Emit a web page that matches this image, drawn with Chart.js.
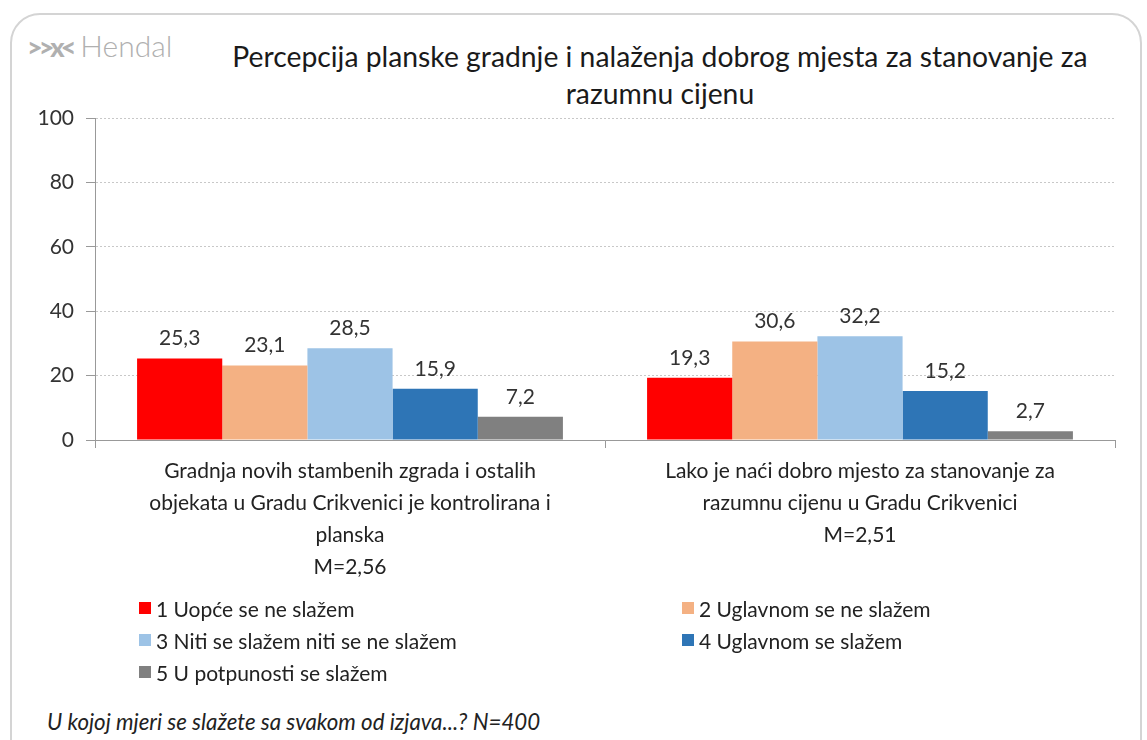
<!DOCTYPE html>
<html>
<head>
<meta charset="utf-8">
<script src="https://cdn.jsdelivr.net/npm/chart.js@4.4.0/dist/chart.umd.min.js"></script>
<style>
    html, body { margin: 0; padding: 0; background: #fff; }
    body { width: 1147px; height: 740px; position: relative; overflow: hidden; font-family: Lato, 'Noto Sans', sans-serif; }
    #frame { position: absolute; left: 10px; top: 13px; width: 1132px; height: 780px; border: 2px solid #d4d4d4; border-radius: 30px; box-sizing: border-box; }
    #logo { position: absolute; left: 27px; top: 27px; color: #b0b0b0; font-size: 30px; font-weight: 300; }
    #logo b { font-weight: 900; letter-spacing: -4px; margin-right: 8px; font-size: 27px; }
    #title { position: absolute; left: 180px; width: 960px; top: 38px; text-align: center; font-size: 28.3px; line-height: 37px; color: #1a1a1a; }
    #chartBox { position: absolute; left: 0; top: 0; width: 1147px; height: 600px; }
    #legend { position: absolute; left: 139px; top: 596px; width: 900px; display: grid; grid-template-columns: 543px 360px; row-gap: 8px; }
    .item { display: flex; align-items: center; font-size: 21px; color: #222; height: 24px; }
    .sw { width: 12px; height: 12px; margin-right: 5px; }
    #note { position: absolute; left: 47px; top: 708px; font-size: 22.3px; font-style: italic; color: #222; }
</style>
</head>
<body>
<div id="frame"></div>
<div id="logo"><b>&gt;&gt;x&lt;</b>Hendal</div>
<div id="title">Percepcija planske gradnje i nalaženja dobrog mjesta za stanovanje za<br>razumnu cijenu</div>
<div id="chartBox"><canvas id="chart"></canvas></div>
<div id="legend"></div>
<div id="note">U kojoj mjeri se slažete sa svakom od izjava...? N=400</div>
<script>
// kategorije (tvrdnje)
const categories = [
    ['Gradnja novih stambenih zgrada i ostalih', 'objekata u Gradu Crikvenici je kontrolirana i', 'planska', 'M=2,56'],
    ['Lako je naći dobro mjesto za stanovanje za', 'razumnu cijenu u Gradu Crikvenici', 'M=2,51']
];
const seriesNames = ['1 Uopće se ne slažem', '2 Uglavnom se ne slažem', '3 Niti se slažem niti se ne slažem', '4 Uglavnom se slažem', '5 U potpunosti se slažem'];
const seriesColors = ['#ff0000', '#f4b183', '#9dc3e6', '#2e75b6', '#808080'];
const uopce = [25.3, 19.3];
const uglavnomNe = [23.1, 30.6];
const niti = [28.5, 32.2];
const uglavnomDa = [15.9, 15.2];
const potpuno = [7.2, 2.7];
const yTicks = [0, 20, 40, 60, 80, 100];

const values = [uopce, uglavnomNe, niti, uglavnomDa, potpuno];

// oznake vrijednosti iznad stupaca
const valueLabels = {
    id: 'valueLabels',
    afterDatasetsDraw(chart) {
        const ctx = chart.ctx;
        ctx.save();
        ctx.font = '21px Lato, sans-serif';
        ctx.fillStyle = '#333';
        ctx.textAlign = 'center';
        ctx.textBaseline = 'middle';
        chart.data.datasets.forEach((ds, i) => {
            chart.getDatasetMeta(i).data.forEach((bar, j) => {
                ctx.fillText(ds.data[j].toFixed(1).replace('.', ','), bar.x, bar.y - 20);
            });
        });
        ctx.restore();
    }
};

const ctx = document.getElementById('chart').getContext('2d');
const chart = new Chart(ctx, {
    type: 'bar',
    data: {
        labels: categories,
        datasets: values.map((v, i) => ({
            label: seriesNames[i],
            data: v,
            backgroundColor: seriesColors[i],
            borderWidth: 0,
            categoryPercentage: 0.835,
            barPercentage: 1.0
        }))
    },
    options: {
        responsive: true,
        maintainAspectRatio: false,
        animation: false,
        layout: { padding: { top: 118, left: 0, right: 32, bottom: 0 } },
        plugins: {
            legend: { display: false },
            tooltip: { enabled: false }
        },
        scales: {
            x: {
                afterFit: s => { s.height = 160; },
                grid: { offset: true, drawOnChartArea: false, drawTicks: true, tickLength: 8, color: '#999' },
                border: { color: '#999', width: 1 },
                ticks: { font: { family: 'Lato', size: 21, lineHeight: 1.53 }, color: '#222', padding: 7, maxRotation: 0, autoSkip: false }
            },
            y: {
                min: 0,
                max: 100,
                afterFit: s => { s.width = 95; },
                afterBuildTicks: s => { s.ticks = yTicks.map(v => ({ value: v })); },
                grid: { color: '#c8c8c8', tickColor: '#999', tickLength: 9, tickBorderDash: [] },
                border: { color: '#999', width: 1, dash: [2, 2] },
                ticks: { font: { family: 'Lato', size: 21 }, color: '#333', padding: 12 }
            }
        }
    },
    plugins: [valueLabels]
});

// legenda u dva stupca
const legendDiv = document.getElementById('legend');
seriesNames.forEach((name, i) => {
    const item = document.createElement('div');
    item.className = 'item';
    item.innerHTML = '<span class="sw" style="background:' + seriesColors[i] + '"></span>' + name;
    legendDiv.appendChild(item);
});
</script>
</body>
</html>
